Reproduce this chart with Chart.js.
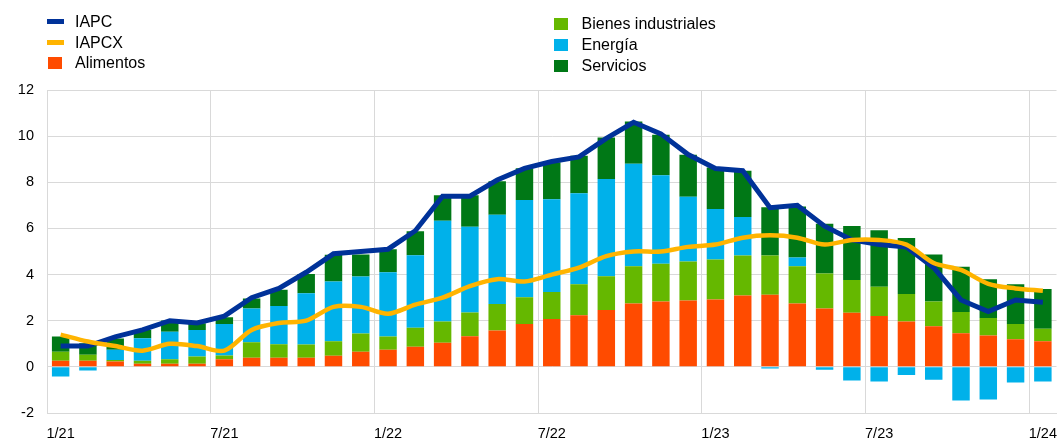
<!DOCTYPE html>
<html>
<head>
<meta charset="utf-8">
<script src="https://cdn.jsdelivr.net/npm/chart.js@4"></script>
<style>
    body { margin: 0; background: #fff; overflow: hidden; }
    #wrap { position: relative; width: 1058px; height: 439px; overflow: hidden; font-family: "Liberation Sans", Arial, sans-serif; }
    #chart { position: absolute; left: 0; top: 0; }
    .item { position: absolute; font-size: 16px; line-height: 20px; height: 20px; color: #000; white-space: nowrap; }
    .sw { position: absolute; }
</style>
</head>
<body>
<div id="wrap">
    <!-- canvas a bit wider than the page: Chart.js keeps right padding for the last x label -->
    <canvas id="chart" width="1069" height="439"></canvas>
    <div id="legend"></div>
</div>
<script>
const categories = [
    '1/21','2/21','3/21','4/21','5/21','6/21','7/21','8/21','9/21','10/21','11/21','12/21',
    '1/22','2/22','3/22','4/22','5/22','6/22','7/22','8/22','9/22','10/22','11/22','12/22',
    '1/23','2/23','3/23','4/23','5/23','6/23','7/23','8/23','9/23','10/23','11/23','12/23',
    '1/24'
]

const iapc = [0.9,0.9,1.3,1.6,2.0,1.9,2.2,3.0,3.4,4.1,4.9,5.0,5.1,5.9,7.4,7.4,8.1,8.6,8.9,9.1,9.9,10.6,10.1,9.2,8.6,8.5,6.9,7.0,6.1,5.5,5.3,5.2,4.3,2.9,2.4,2.9,2.8]
const iapcx = [1.4,1.1,0.9,0.7,1.0,0.9,0.7,1.6,1.9,2.0,2.6,2.6,2.3,2.7,3.0,3.5,3.8,3.7,4.0,4.3,4.8,5.0,5.0,5.2,5.3,5.6,5.7,5.6,5.3,5.5,5.5,5.3,4.5,4.2,3.6,3.4,3.3]

// contributions (pp)
const alimentos = [0.27,0.27,0.23,0.14,0.14,0.14,0.33,0.40,0.40,0.40,0.48,0.66,0.74,0.87,1.05,1.33,1.58,1.86,2.07,2.24,2.46,2.75,2.83,2.88,2.92,3.09,3.12,2.75,2.53,2.34,2.20,1.97,1.76,1.46,1.36,1.20,1.11]
const bienes = [0.39,0.25,0.07,0.12,0.19,0.31,0.16,0.67,0.58,0.57,0.63,0.79,0.58,0.82,0.92,1.03,1.14,1.16,1.17,1.34,1.47,1.61,1.64,1.69,1.73,1.74,1.71,1.61,1.52,1.43,1.27,1.19,1.07,0.92,0.76,0.66,0.54]
const energia = [-0.42,-0.16,0.44,0.98,1.19,1.15,1.37,1.46,1.66,2.22,2.59,2.47,2.78,3.15,4.36,3.71,3.87,4.21,4.03,3.95,4.21,4.44,3.84,2.80,2.19,1.66,-0.07,0.38,-0.12,-0.59,-0.64,-0.35,-0.56,-1.46,-1.42,-0.68,-0.64]
const servicios = [0.66,0.50,0.49,0.36,0.49,0.29,0.29,0.43,0.70,0.84,1.16,0.95,1.00,1.04,1.11,1.37,1.46,1.38,1.60,1.62,1.80,1.84,1.75,1.82,1.80,2.01,2.09,2.21,2.15,2.33,2.45,2.42,2.04,1.96,1.68,1.72,1.73]

const yTicks = [-2, 0, 2, 4, 6, 8, 10, 12]

const colors = {
    iapc: '#003299',
    iapcx: '#FFB400',
    alimentos: '#FF4B00',
    bienes: '#65B800',
    energia: '#00B1EA',
    servicios: '#007816'
}
const gridColor = '#d9d9d9'

// legend (two columns, html)
const legendItems = [
    { label: 'IAPC', color: colors.iapc, kind: 'line', x: 47, y: 21.5 },
    { label: 'IAPCX', color: colors.iapcx, kind: 'line', x: 47, y: 42.5 },
    { label: 'Alimentos', color: colors.alimentos, kind: 'box', x: 48, y: 62.5 },
    { label: 'Bienes industriales', color: colors.bienes, kind: 'box', x: 554, y: 24 },
    { label: 'Energía', color: colors.energia, kind: 'box', x: 554, y: 45 },
    { label: 'Servicios', color: colors.servicios, kind: 'box', x: 554, y: 65.5 }
]
const legendEl = document.getElementById('legend')
legendItems.forEach(it => {
    const sw = document.createElement('div')
    sw.className = 'sw'
    const w = it.kind === 'line' ? 16.6 : 13.5
    const h = it.kind === 'line' ? 5.3 : 12
    sw.style.cssText = `left:${it.x}px;top:${it.y - h / 2}px;width:${w}px;height:${h}px;background:${it.color}`
    legendEl.appendChild(sw)
    const tx = document.createElement('div')
    tx.className = 'item'
    tx.textContent = it.label
    tx.style.left = (it.x < 100 ? 75 : 581.5) + 'px'
    tx.style.top = (it.y - 10) + 'px'
    legendEl.appendChild(tx)
})

const barDs = (label, data, color) => ({
    type: 'bar',
    label,
    data,
    backgroundColor: color,
    borderWidth: 0,
    categoryPercentage: 1,
    barPercentage: 0.64
})

new Chart(document.getElementById('chart').getContext('2d'), {
    data: {
        labels: categories,
        datasets: [
            { type: 'line', label: 'IAPCX', data: iapcx, stack: 'l2', borderColor: colors.iapcx, borderWidth: 4.5, pointRadius: 0, tension: 0.3, fill: false },
            { type: 'line', label: 'IAPC', data: iapc, stack: 'l1', borderColor: colors.iapc, borderWidth: 5, pointRadius: 0, tension: 0, fill: false },
            barDs('Alimentos', alimentos, colors.alimentos),
            barDs('Bienes industriales', bienes, colors.bienes),
            barDs('Energía', energia, colors.energia),
            barDs('Servicios', servicios, colors.servicios)
        ]
    },
    options: {
        responsive: false,
        animation: false,
        layout: { padding: { top: 90, right: 2, left: 0, bottom: 0 } },
        plugins: { legend: { display: false }, tooltip: { enabled: false } },
        scales: {
            x: {
                stacked: true,
                offset: true,
                grid: {
                    offset: true,
                    drawTicks: false,
                    color: ctx => (ctx.index % 6 === 0 ? gridColor : 'rgba(0,0,0,0)')
                },
                border: { color: gridColor },
                ticks: {
                    autoSkip: false,
                    maxRotation: 0,
                    padding: 12,
                    color: '#000',
                    font: { family: '"Liberation Sans", Arial, sans-serif', size: 14.5 },
                    callback: (v, i) => (i % 6 === 0 ? categories[i] : '')
                },
                afterFit: scale => { scale.height = 26 }
            },
            y: {
                stacked: true,
                min: yTicks[0],
                max: yTicks[yTicks.length - 1],
                grid: { drawTicks: false, color: gridColor },
                border: { color: gridColor },
                afterBuildTicks: scale => { scale.ticks = yTicks.map(v => ({ value: v })) },
                ticks: {
                    padding: 13,
                    color: '#000',
                    font: { family: '"Liberation Sans", Arial, sans-serif', size: 14.5 }
                },
                afterFit: scale => { scale.width = 47 }
            }
        }
    }
})
</script>
</body>
</html>
